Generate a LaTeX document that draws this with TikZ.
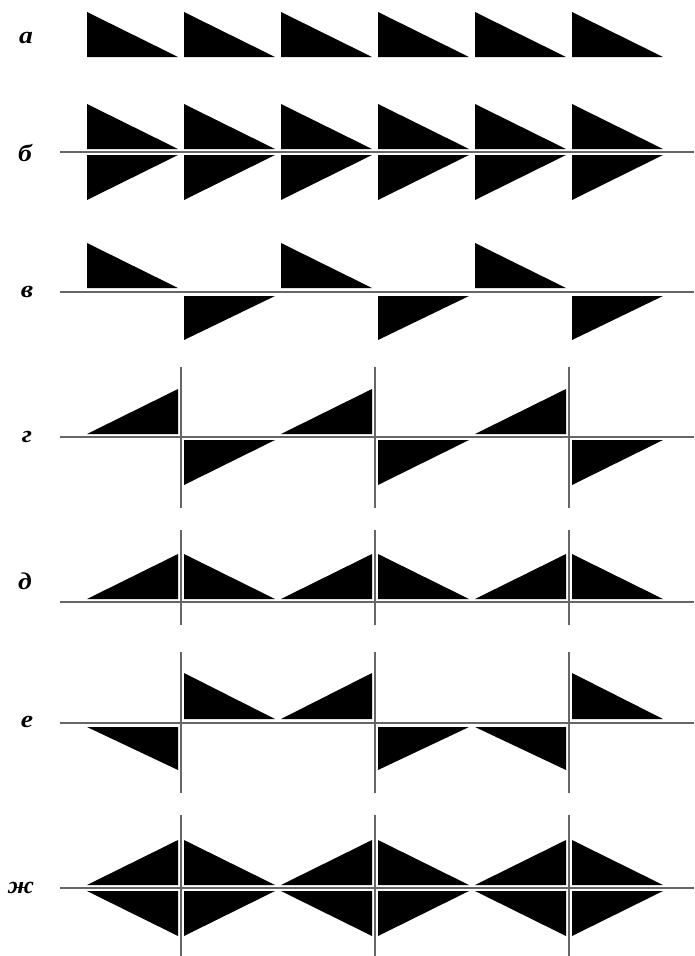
\documentclass[tikz,border=0pt]{standalone}
\usepackage{fontspec}
\setmainfont{Liberation Serif}
\newfontfamily\lblfont[FakeStretch=1.15]{Liberation Serif}
\begin{document}
\begin{tikzpicture}[x=1pt,y=-1pt,
  tri/.style={fill=black},
  axisline/.style={draw=black!60,line width=1.3pt},
  lbl/.style={font=\lblfont\fontsize{24}{28}\selectfont\bfseries\itshape,inner sep=0pt}]
\useasboundingbox (0,0) rectangle (695,956);
% labels
\node[lbl] (la) at (26,38) {а};
\node[lbl] (lb) at (25,153) {б};
\node[lbl] (lv) at (27,292) {в};
\node[lbl] (lg) at (27,437) {г};
\node[lbl] (ld) at (25,581) {д};
\node[lbl] (le) at (27,722) {е};
\node[lbl] (lzh) at (21,888) {ж};
% axes
\foreach \y in {152,292,437,602,723,888}
  \draw[axisline] (60,\y) -- (694,\y);
% verticals
\foreach \x in {181,375,569}{
  \draw[axisline] (\x,367) -- (\x,508);
  \draw[axisline] (\x,530) -- (\x,625);
  \draw[axisline] (\x,652) -- (\x,793);
  \draw[axisline] (\x,815) -- (\x,956);
}
% row a and b
\foreach \k in {0,...,5}{
  \pgfmathsetmacro{\L}{87+97*\k}
  \pgfmathsetmacro{\R}{\L+91}
  \fill[tri] (\L,12) -- (\L,57) -- (\R,57) -- cycle;
  \fill[tri] (\L,104) -- (\L,149) -- (\R,149) -- cycle;
  \fill[tri] (\L,155) -- (\R,155) -- (\L,200) -- cycle;
}
% rows v, g, d, zh (even / odd)
\foreach \k in {0,2,4}{
  \pgfmathsetmacro{\L}{87+97*\k}
  \pgfmathsetmacro{\R}{\L+91}
  \pgfmathsetmacro{\LL}{\L+97}
  \pgfmathsetmacro{\RR}{\R+97}
  % v
  \fill[tri] (\L,243) -- (\L,288) -- (\R,288) -- cycle;
  \fill[tri] (\LL,296) -- (\RR,296) -- (\LL,340) -- cycle;
  % g
  \fill[tri] (\L,434) -- (\R,434) -- (\R,389) -- cycle;
  \fill[tri] (\LL,440) -- (\RR,440) -- (\LL,485) -- cycle;
  % d
  \fill[tri] (\L,599) -- (\R,599) -- (\R,554) -- cycle;
  \fill[tri] (\LL,599) -- (\LL,554) -- (\RR,599) -- cycle;
  % zh
  \fill[tri] (\L,885) -- (\R,885) -- (\R,840) -- cycle;
  \fill[tri] (\L,891) -- (\R,891) -- (\R,936) -- cycle;
  \fill[tri] (\LL,885) -- (\LL,840) -- (\RR,885) -- cycle;
  \fill[tri] (\LL,891) -- (\LL,936) -- (\RR,891) -- cycle;
}
% row e
\fill[tri] (87,727) -- (178,727) -- (178,770) -- cycle;
\fill[tri] (184,673) -- (184,719) -- (275,719) -- cycle;
\fill[tri] (281,719) -- (372,719) -- (372,673) -- cycle;
\fill[tri] (378,727) -- (469,727) -- (378,770) -- cycle;
\fill[tri] (475,727) -- (566,727) -- (566,770) -- cycle;
\fill[tri] (572,673) -- (572,719) -- (663,719) -- cycle;
\end{tikzpicture}
\end{document}
